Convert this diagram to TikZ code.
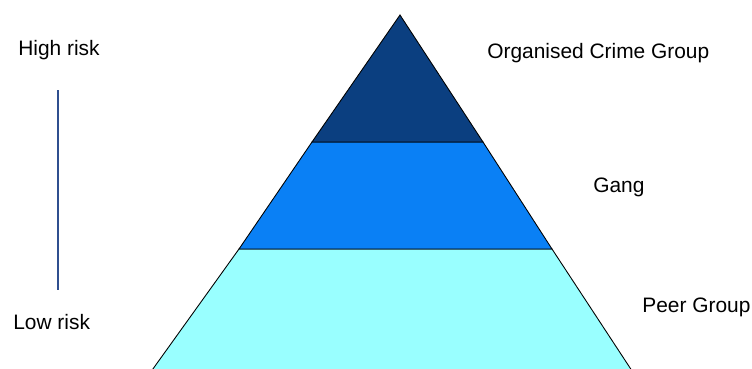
\documentclass[tikz,border=0pt]{standalone}
\usepackage{fontspec}
\setmainfont{Liberation Sans}
\usepackage{xcolor}
\usepackage{tikz}
\usetikzlibrary{positioning,calc}

\definecolor{crimeblue}{HTML}{0B3F80}
\definecolor{gangblue}{HTML}{0A80F5}
\definecolor{peercyan}{HTML}{99FFFF}
\definecolor{axisblue}{HTML}{2F4F8F}

\tikzset{
  band/.style={draw=black, line width=0.5pt},
  lbl/.style={font=\fontsize{11.9}{13}\selectfont, inner sep=0pt, anchor=west}
}

\begin{document}
\begin{tikzpicture}[x=0.02cm, y=-0.02cm]
  \useasboundingbox (0,0) rectangle (752,369);
  \clip (0,0) rectangle (752,369);

  % pyramid corners
  \coordinate (apex) at (400,15);
  \coordinate (tl) at (312,142);
  \coordinate (tr) at (483,142);
  \coordinate (ml) at (239,249);
  \coordinate (mr) at (552,249);
  \coordinate (bl) at (145,380);
  \coordinate (br) at (638,380);

  % bands
  \filldraw[band, fill=peercyan] (ml) -- (mr) -- (br) -- (bl) -- cycle;
  \filldraw[band, fill=gangblue] (tl) -- (tr) -- (mr) -- (ml) -- cycle;
  \filldraw[band, fill=crimeblue] (apex) -- (tr) -- (tl) -- cycle;

  % labels
  \node[lbl] (crime) at (487,53) {Organised Crime Group};
  \node[lbl] (gang) at (593,187) {Gang};
  \node[lbl] (peer) at (642,307) {Peer Group};

  % risk scale
  \node[lbl] (high) at (18,50) {High risk};
  \node[lbl] (low) at (13,322) {Low risk};
  \coordinate (axtop) at (58,90);
  \coordinate (axbot) at (58,290);
  \draw[axisblue, line width=0.9pt] (axtop) -- (axbot);
\end{tikzpicture}
\end{document}
